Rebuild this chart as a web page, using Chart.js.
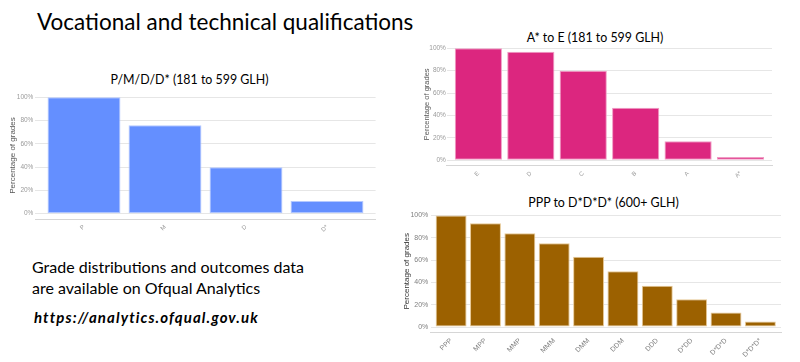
<!DOCTYPE html>
<html>
<head>
<meta charset="utf-8">
<script src="https://cdn.jsdelivr.net/npm/chart.js@4.4.1/dist/chart.umd.min.js"></script>
<style>
  html, body { margin: 0; padding: 0; background: #fff; }
  body { width: 800px; height: 362px; position: relative; overflow: hidden; font-family: Lato, "Open Sans", sans-serif; color: #000; }
  canvas { position: absolute; }
  .txt { position: absolute; white-space: nowrap; }
  .ctitle { position: absolute; white-space: nowrap; transform: translate(-50%, -50%); font-size: 12.4px; line-height: 1; }
</style>
</head>
<body>
<div class="txt" style="left:37px; top:8.5px; font-size:22.5px; line-height:26px;">Vocational and technical qualifications</div>

<div class="ctitle" style="left:189.5px; top:80px;">P/M/D/D* (181 to 599 GLH)</div>
<div class="ctitle" style="left:595px; top:37.5px;">A* to E (181 to 599 GLH)</div>
<div class="ctitle" style="left:603.5px; top:202.7px;">PPP to D*D*D* (600+ GLH)</div>

<div class="txt" style="left:32px; top:256px; font-size:16px; line-height:21px;">Grade distributions and outcomes data<br>are available on Ofqual Analytics</div>
<div class="txt" style="left:34px; top:307px; font-size:15px; line-height:21px; font-weight:bold; font-style:italic; letter-spacing:1.1px;">https://analytics.ofqual.gov.uk</div>

<canvas id="pmdChart" width="400" height="155" style="left:0px; top:85px;"></canvas>
<canvas id="aeChart" width="400" height="155" style="left:400px; top:35px;"></canvas>
<canvas id="pppChart" width="400" height="162" style="left:400px; top:200px;"></canvas>

<script>
// percentage axis ticks shared by all three charts
const yTicks = [0, 20, 40, 60, 80, 100];

// P/M/D/D* (181 to 599 GLH)
const pmdLabels = ["P", "M", "D", "D*"];
const pmdValues = [100, 76, 40, 11];

// A* to E (181 to 599 GLH)
const aeLabels = ["E", "D", "C", "B", "A", "A*"];
const aeValues = [100, 97, 80, 47, 17, 3];

// PPP to D*D*D* (600+ GLH)
const pppLabels = ["PPP", "MPP", "MMP", "MMM", "DMM", "DDM", "DDD", "D*DD", "D*D*D", "D*D*D*"];
const pppValues = [100, 93, 84, 75, 63, 50, 37, 25, 13, 5];

function drawBars(id, labels, values, colour, edge, look) {
    const ctx = document.getElementById(id).getContext("2d");
    return new Chart(ctx, {
        type: "bar",
        data: {
            datasets: [{
                data: labels.map((l, i) => ({ x: i, y: values[i] })),
                backgroundColor: colour,
                borderColor: edge,
                borderWidth: 1,
                borderSkipped: false,
                categoryPercentage: 1,
                barPercentage: 0.9
            }]
        },
        options: {
            responsive: false,
            animation: false,
            layout: { padding: look.padding },
            plugins: {
                legend: { display: false },
                tooltip: { enabled: false }
            },
            scales: {
                x: {
                    type: "linear",
                    offset: false,
                    min: -0.6,
                    max: labels.length - 0.4,
                    afterBuildTicks: (s) => { s.ticks = labels.map((l, i) => ({ value: i })); },
                    afterFit: (s) => { s.height = look.xHeight; },
                    grid: { display: false, drawTicks: false, offset: false },
                    border: { display: true, color: "#d6d6d6", width: 1 },
                    ticks: {
                        autoSkip: false,
                        minRotation: 45,
                        maxRotation: 45,
                        padding: 4,
                        color: look.tickColour,
                        font: { family: "Liberation Sans", size: look.xFont },
                        callback: (v) => labels[v]
                    }
                },
                y: {
                    min: -5,
                    max: 105,
                    afterBuildTicks: (s) => { s.ticks = yTicks.map((v) => ({ value: v })); },
                    afterFit: (s) => { s.width = look.yWidth; },
                    grid: { color: "#e6e6e6", drawTicks: false },
                    border: { display: false },
                    ticks: {
                        padding: look.yPad,
                        color: look.tickColour,
                        font: { family: "Liberation Sans", size: look.yFont },
                        callback: (v) => v + "%"
                    },
                    title: {
                        display: true,
                        text: "Percentage of grades",
                        color: look.titleColour,
                        font: { family: "Liberation Sans", size: look.titleFont },
                        padding: { top: look.titlePad, bottom: 0 }
                    }
                }
            }
        }
    });
}

drawBars("pmdChart", pmdLabels, pmdValues, "#648fff", "#b4c9ff", {
    padding: { left: 3.4, right: 24.4, top: 6.5, bottom: 0.5 },
    xHeight: 20, yWidth: 32, yPad: 2,
    xFont: 6, yFont: 6.5, titleFont: 8, titlePad: 4.8,
    tickColour: "#9a9a9a", titleColour: "#555"
});

drawBars("aeChart", aeLabels, aeValues, "#dc267f", "#f09cc4", {
    padding: { left: 16.9, right: 28, top: 7.7, bottom: 2.1 },
    xHeight: 22, yWidth: 30, yPad: 1,
    xFont: 6, yFont: 6.5, titleFont: 7.5, titlePad: 5.3,
    tickColour: "#9a9a9a", titleColour: "#555"
});

drawBars("pppChart", pppLabels, pppValues, "#9c6100", "#e6c896", {
    padding: { left: 0.5, right: 19, top: 9.9, bottom: 3.4 },
    xHeight: 26, yWidth: 30, yPad: 2.2,
    xFont: 7, yFont: 7, titleFont: 8, titlePad: 1.4,
    tickColour: "#808080", titleColour: "#333"
});
</script>
</body>
</html>
